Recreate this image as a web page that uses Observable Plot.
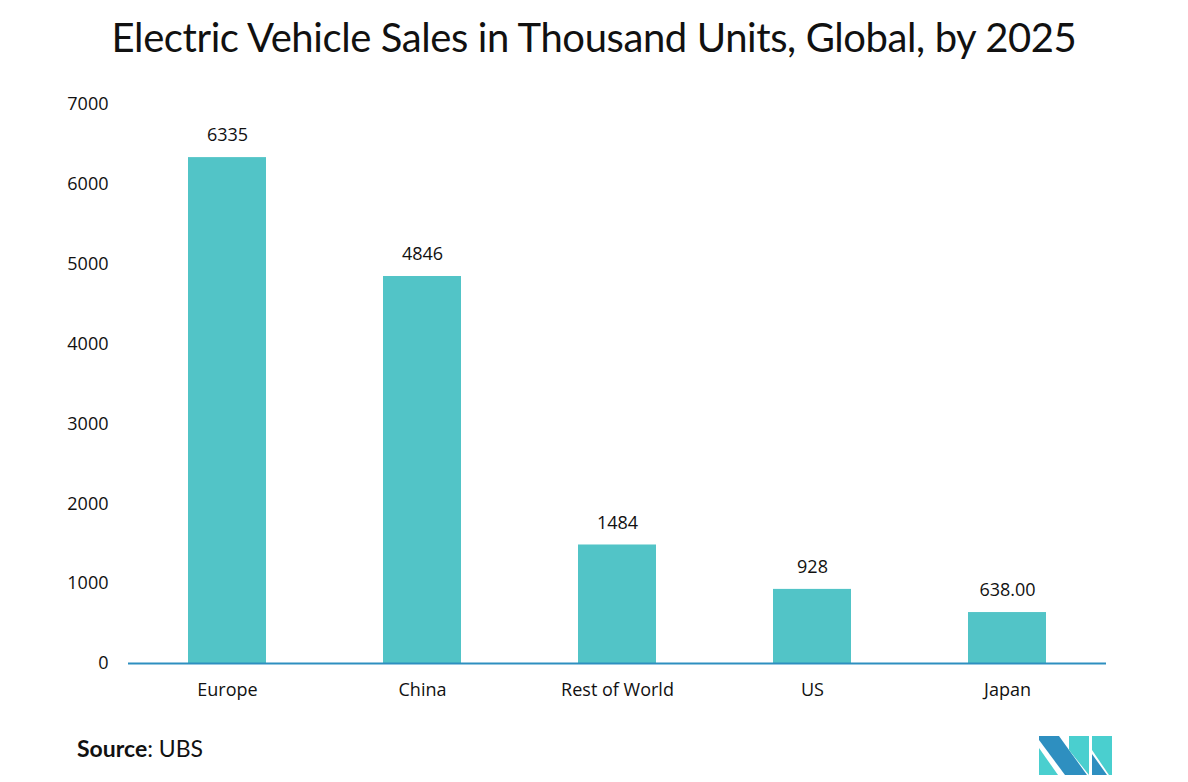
<!DOCTYPE html>
<html>
<head>
<meta charset="utf-8">
<script src="https://cdn.jsdelivr.net/npm/d3@7"></script>
<script src="https://cdn.jsdelivr.net/npm/@observablehq/plot@0.6"></script>
<style>
  html, body { margin: 0; padding: 0; background: #fff; }
  #wrap { position: relative; width: 1188px; height: 782px; overflow: hidden; }
  #title { position: absolute; left: 0; top: 13px; width: 1188px; text-align: center;
    font-family: Lato, sans-serif; font-weight: 400; font-size: 40px; color: #111; letter-spacing: -0.4px; }
  #source { position: absolute; left: 77px; top: 734px; font-family: Lato, sans-serif; font-size: 23px; color: #111; }
  #source b { font-weight: 700; }
  #logo { position: absolute; left: 1039px; top: 736px; }
  #chart { position: absolute; left: 0; top: 0; }
</style>
</head>
<body>
<div id="wrap">
  <div id="chart"></div>
  <div id="title">Electric Vehicle Sales in Thousand Units, Global, by 2025</div>
  <div id="source"><b>Source</b>: UBS</div>
  <svg id="logo" width="73" height="39" viewBox="0 0 73 39">
    <polygon points="0,0 20,0 48,39 26,39 0,4" fill="#2E8FC0"/>
    <polygon points="0,12 19,39 0,39" fill="#4ACFCF"/>
    <polygon points="30,14 30,0 50,0 50,39" fill="#4ACFCF"/>
    <polygon points="53,0 73,0 73,39 70,39 53,14" fill="#4ACFCF"/>
    <polygon points="53,18 68,39 53,39" fill="#2E8FC0"/>
  </svg>
</div>
<script>
const regions = ["Europe", "China", "Rest of World", "US", "Japan"];
const sales = [6335, 4846, 1484, 928, 638];
const valueLabels = ["6335", "4846", "1484", "928", "638.00"];
const yTicks = [0, 1000, 2000, 3000, 4000, 5000, 6000, 7000];

const data = regions.map((r, i) => ({region: r, value: sales[i], label: valueLabels[i]}));

const chart = Plot.plot({
  width: 1188,
  height: 782,
  marginTop: 104,
  marginBottom: 119,
  marginLeft: 128,
  marginRight: 82,
  style: {fontFamily: "'Open Sans', sans-serif", fontSize: "18px", color: "#111", background: "transparent"},
  x: {domain: regions, paddingInner: 0.6, paddingOuter: 0.3, label: null},
  y: {domain: [0, 7000], ticks: yTicks, label: null},
  marks: [
    Plot.axisY({ticks: yTicks, tickSize: 0, tickPadding: 20, tickFormat: d => String(d), fontSize: 18, label: null}),
    Plot.axisX({tickSize: 0, tickPadding: 20, fontSize: 18, label: null}),
    Plot.barY(data, {x: "region", y: "value", fill: "#52C4C7"}),
    Plot.ruleY([0], {stroke: "#2E8FC0", strokeWidth: 2}),
    Plot.text(data, {x: "region", y: "value", text: "label", dy: -22, fontSize: 18, fill: "#111"})
  ]
});
document.getElementById("chart").appendChild(chart);
</script>
</body>
</html>
